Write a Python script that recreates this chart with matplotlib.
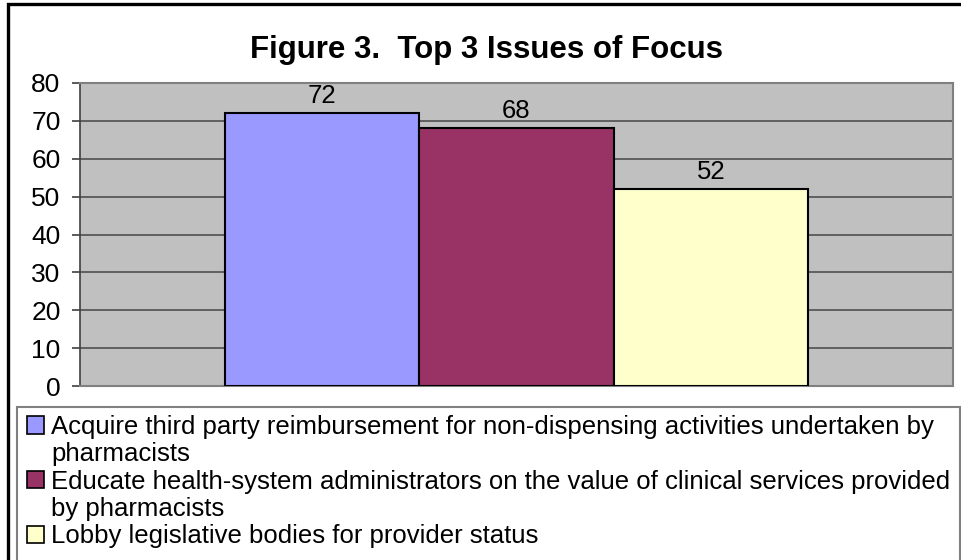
import matplotlib
matplotlib.use("Agg")
import matplotlib.pyplot as plt
from matplotlib.patches import Rectangle, Patch

plt.rcParams['font.family'] = ['Liberation Sans', 'DejaVu Sans']

title = "Figure 3.  Top 3 Issues of Focus"
series_names = [
    "Acquire third party reimbursement for non-dispensing activities undertaken by\npharmacists",
    "Educate health-system administrators on the value of clinical services provided\nby pharmacists",
    "Lobby legislative bodies for provider status",
]
values = [72, 68, 52]
colors = ["#9999FF", "#993366", "#FFFFCC"]
y_ticks = [0, 10, 20, 30, 40, 50, 60, 70, 80]

W, H = 962, 560
fig = plt.figure(figsize=(W / 100, H / 100), dpi=100)

def fx(px):
    return px / W

def fy(py):
    return 1 - py / H

# outer chart border (cropped at right/bottom)
fig.patches.append(Rectangle((fx(8), fy(600)), fx(1000) - fx(8), fy(3.5) - fy(600),
                             transform=fig.transFigure, fill=False,
                             edgecolor="black", linewidth=2.4, zorder=0))

ax = fig.add_axes([fx(80), fy(386), fx(953) - fx(80), fy(83) - fy(386)])
ax.set_facecolor("#C0C0C0")

x = list(range(len(values)))
bars = ax.bar(x, values, width=1.0, color=colors, edgecolor="black",
              linewidth=1.5, zorder=3)
for xi, v in zip(x, values):
    ax.annotate(str(v), (xi, v), xytext=(0, 7.5), textcoords="offset points",
                ha="center", va="baseline", fontsize=18.5, zorder=4)

ax.set_xlim(-1.247, 3.247)
ax.set_ylim(0, 80)
ax.set_yticks(y_ticks)
ax.set_xticks([])
ax.yaxis.grid(True, color="#505050", linewidth=1.2, zorder=1)
ax.set_axisbelow(True)
for side in ["top", "right", "bottom"]:
    ax.spines[side].set_color("#808080")
    ax.spines[side].set_linewidth(1.5)
ax.spines["left"].set_color("#404040")
ax.spines["left"].set_linewidth(1.2)
ax.tick_params(axis="y", direction="out", length=6, width=1.2, color="#404040",
               pad=8, labelsize=19)

fig.text(fx(487), fy(58), title, ha="center", va="baseline",
         fontsize=22.5, fontweight="bold")

# legend box
fig.patches.append(Rectangle((fx(17), fy(600)), fx(960) - fx(17), fy(407) - fy(600),
                             transform=fig.transFigure, fill=True, facecolor="white",
                             edgecolor="#808080", linewidth=1.5, zorder=1))

handles = []
labels = []
for name, c in zip(series_names, colors):
    lines = name.split("\n")
    handles.append(Patch(facecolor=c, edgecolor="black", linewidth=1.2))
    labels.append(lines[0])
    for extra in lines[1:]:
        handles.append(Patch(facecolor="none", edgecolor="none"))
        labels.append(extra)

leg = fig.legend(handles, labels, loc="upper left",
                 bbox_to_anchor=(fx(27), fy(415)), frameon=False,
                 fontsize=18.55, handlelength=0.66, handleheight=0.66,
                 handletextpad=0.28, labelspacing=0.13, borderpad=0.0,
                 borderaxespad=0.0)

fig.savefig("out.png", dpi=100)
